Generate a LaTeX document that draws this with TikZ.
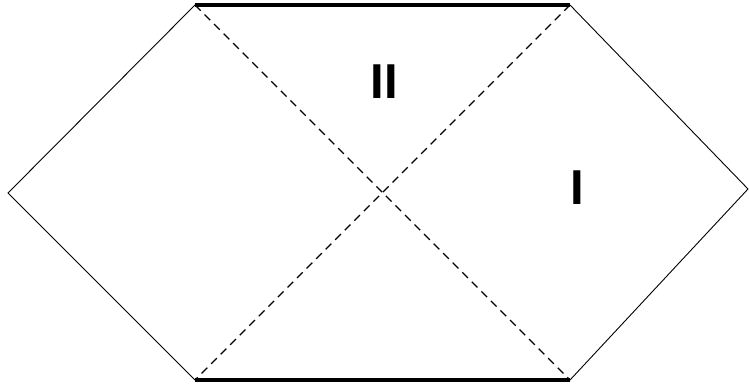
\documentclass[tikz,border=0pt]{standalone}
\usepackage{fontspec}
\setmainfont{Liberation Sans}
\begin{document}
\begin{tikzpicture}[x=1pt,y=-1pt,
  edge/.style={line width=0.9pt},
  sing/.style={line width=3.6pt},
  horiz/.style={line width=1.4pt,dash pattern=on 8pt off 5.5pt},
  lab/.style={font=\fontsize{49}{50}\selectfont\bfseries}]
\useasboundingbox (0,0) rectangle (749,390);
\coordinate (L) at (8,193);
\coordinate (TL) at (195,5);
\coordinate (TR) at (570,5);
\coordinate (R) at (748,189);
\coordinate (BR) at (570,380);
\coordinate (BL) at (195,380);
\draw[edge] (TL) -- (L) -- (BL);
\draw[edge] (TR) -- (R) -- (BR);
\draw[sing] (TL) -- (TR);
\draw[sing] (BL) -- (BR);
\draw[horiz] (TL) -- (BR);
\draw[horiz] (TR) -- (BL);
\node[lab] (II) at (384,82) {II};
\node[lab] (I) at (577,188) {I};
\end{tikzpicture}
\end{document}
